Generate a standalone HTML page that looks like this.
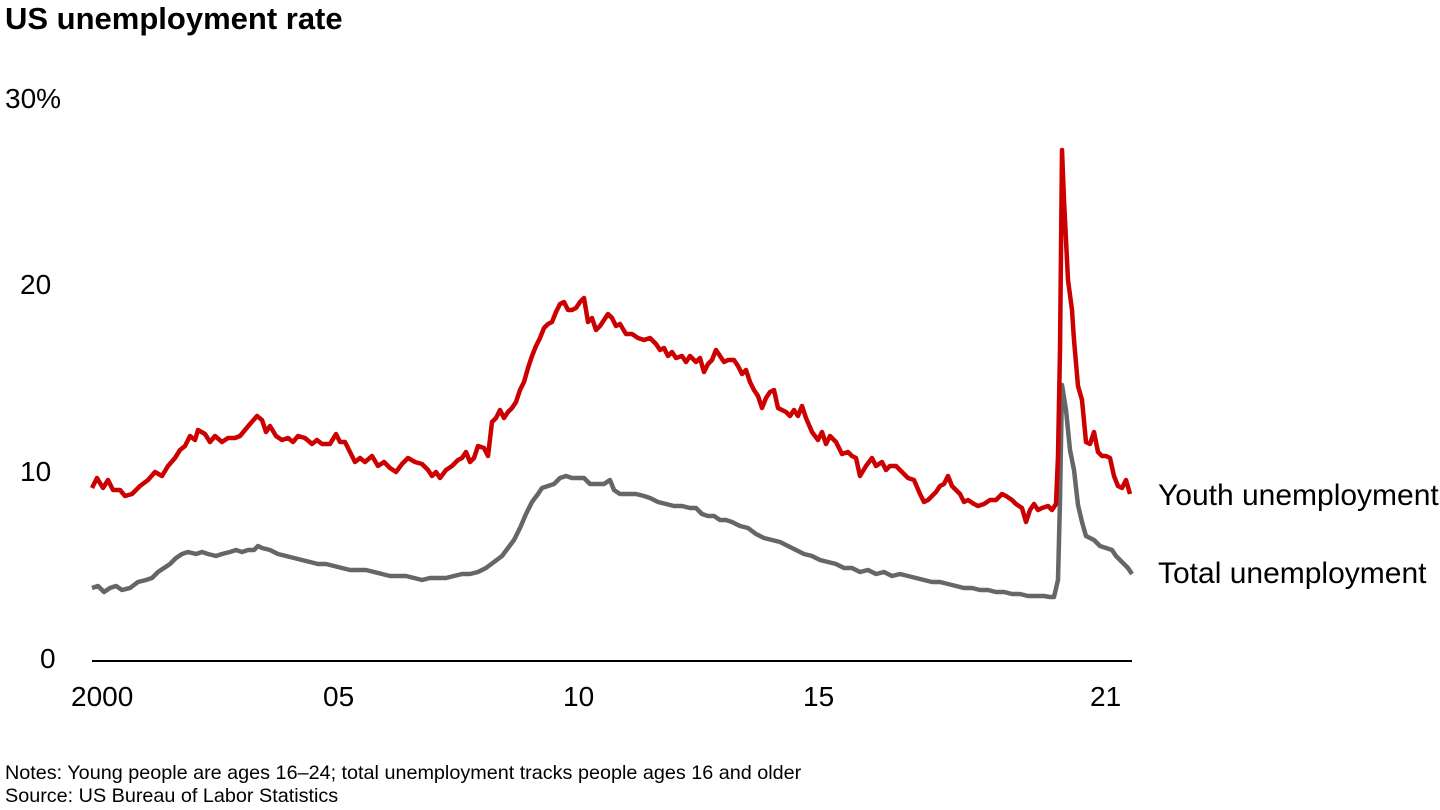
<!DOCTYPE html>
<html><head><meta charset="utf-8"><style>
body{margin:0;width:1440px;height:810px;background:#fff;overflow:hidden;font-family:"Liberation Sans",Arial,sans-serif}
svg{position:absolute;left:0;top:0}
</style></head><body>
<svg width="1440" height="810" xmlns="http://www.w3.org/2000/svg" font-family="Liberation Sans, Arial, sans-serif">
<text x="5" y="29" font-size="31" font-weight="bold" fill="#000">US unemployment rate</text>
<g font-size="28" fill="#000">
<text x="5" y="108">30%</text>
<text x="20" y="294">20</text>
<text x="20" y="481">10</text>
<text x="40" y="668">0</text>
<text x="71" y="706">2000</text>
<text x="323" y="706">05</text>
<text x="563" y="706">10</text>
<text x="803" y="706">15</text>
<text x="1090" y="706">21</text>
<text x="1158" y="505" font-size="30">Youth unemployment</text>
<text x="1158" y="583" font-size="30">Total unemployment</text>
</g>
<line x1="92" y1="661" x2="1132" y2="661" stroke="#000" stroke-width="2"/>
<polyline fill="none" stroke="#666" stroke-width="4.5" stroke-linejoin="round" points="92,588 98,586 104,592 110,588 116,586 122,590 130,588 138,582 146,580 152,578 158,572 164,568 170,564 176,558 182,554 188,552 196,554 202,552 208,554 216,556 222,554 230,552 236,550 242,552 248,550 254,550 258,546 262,548 270,550 278,554 286,556 294,558 302,560 310,562 318,564 326,564 334,566 342,568 350,570 358,570 366,570 374,572 382,574 390,576 398,576 406,576 414,578 422,580 430,578 438,578 446,578 454,576 462,574 470,574 478,572 486,568 494,562 502,556 508,548 514,540 520,528 526,514 532,502 538,494 542,488 548,486 554,484 560,478 566,476 572,478 578,478 584,478 590,484 596,484 604,484 610,480 614,490 620,494 628,494 636,494 644,496 650,498 658,502 666,504 674,506 682,506 690,508 696,508 702,514 708,516 714,516 720,520 726,520 732,522 740,526 748,528 756,534 764,538 772,540 780,542 788,546 796,550 804,554 812,556 820,560 828,562 836,564 844,568 852,568 860,572 868,570 876,574 884,572 892,576 900,574 908,576 916,578 924,580 932,582 940,582 948,584 956,586 964,588 972,588 980,590 988,590 996,592 1004,592 1012,594 1020,594 1028,596 1036,596 1044,596 1050,597 1054,597 1058,580 1060,500 1062,385 1066,410 1070,450 1074,470 1078,505 1082,522 1086,536 1090,538 1094,540 1100,546 1106,548 1112,550 1116,556 1120,560 1124,564 1128,568 1132,574"/>
<polyline fill="none" stroke="#cc0000" stroke-width="4.5" stroke-linejoin="round" points="92,488 97,478 103,488 108,480 113,490 120,490 125,496 132,494 140,486 148,480 155,472 162,476 168,466 175,458 180,450 185,446 190,436 195,440 198,430 205,434 210,442 215,436 222,442 228,438 235,438 240,436 245,430 250,424 257,416 262,420 266,432 270,426 276,436 282,440 288,438 293,442 298,436 305,438 312,444 317,440 322,444 330,444 336,434 340,442 345,442 350,452 355,462 360,458 365,462 372,456 378,466 384,462 390,468 396,472 402,464 408,458 415,462 422,464 428,470 432,476 436,472 440,478 446,470 452,466 458,460 462,458 466,452 470,462 474,458 478,446 484,448 488,456 492,422 496,418 500,410 504,418 508,412 512,408 516,402 520,390 524,382 528,368 532,356 536,346 540,338 544,328 548,324 552,322 556,312 560,304 564,302 568,310 572,310 576,308 580,302 584,298 588,322 592,318 596,330 600,326 604,320 608,314 612,318 616,326 620,324 626,334 632,334 638,338 644,340 650,338 656,344 660,350 664,348 668,356 672,352 676,358 682,356 686,362 690,356 696,362 700,358 704,372 708,364 712,360 716,350 720,356 724,362 728,360 734,360 738,366 742,374 746,370 750,382 754,390 758,396 762,408 766,398 770,392 774,390 778,408 782,410 786,412 790,416 794,410 798,416 802,406 806,418 812,432 818,440 822,432 826,444 830,436 836,442 842,454 848,452 852,456 856,458 860,476 866,466 872,458 876,466 882,462 886,470 890,466 896,466 902,472 908,478 914,480 920,494 924,502 928,500 932,496 936,492 940,486 944,484 948,476 952,486 956,490 960,494 964,502 968,500 974,504 978,506 984,504 990,500 996,500 1002,494 1006,496 1012,500 1016,504 1022,508 1026,522 1030,510 1034,504 1038,510 1042,508 1048,506 1052,510 1056,504 1058,456 1060,350 1062,150 1064,200 1068,280 1072,310 1074,340 1078,386 1082,400 1086,442 1090,444 1094,432 1098,452 1102,456 1106,456 1110,458 1114,476 1118,486 1122,488 1126,480 1130,494"/>
<g font-size="19.8" fill="#000">
<text x="5" y="779">Notes: Young people are ages 16–24; total unemployment tracks people ages 16 and older</text>
<text x="5" y="802">Source: US Bureau of Labor Statistics</text>
</g>
</svg>
</body></html>
